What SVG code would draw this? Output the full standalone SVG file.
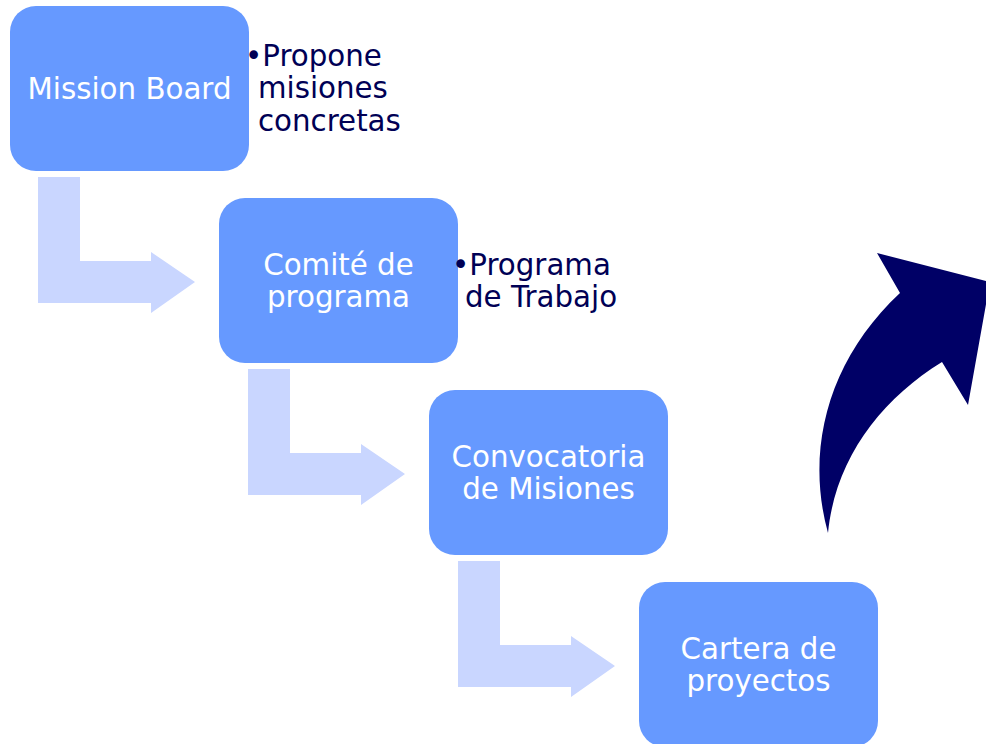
<svg xmlns="http://www.w3.org/2000/svg" width="986" height="744" viewBox="0 0 986 744">
<style>
.box{fill:#6699FF}
.bent{fill:#C9D6FF}
.lbl{font-family:"DejaVu Sans",Verdana,sans-serif;font-size:29.3px;fill:#FFFFFF;text-anchor:middle}
.note{font-family:"DejaVu Sans",Verdana,sans-serif;font-size:29.3px;fill:#000055}
</style>
<rect width="986" height="744" fill="#FFFFFF"/>
<g id="connectors">
<path class="bent" d="M38 177 H80 V261 H151 V252 L195 282 L151 313 V303 H38 Z"/>
<path class="bent" d="M248 369 H290 V453 H361 V444 L405 474 L361 505 V495 H248 Z"/>
<path class="bent" d="M458 561 H500 V645 H571 V636 L615 666 L571 697 V687 H458 Z"/>
<path id="curved-arrow" fill="#000066" d="M828 533 C805 450 828 360 900 293 L877 253 L990 282 L968 405 L942 362 C880 400 835 460 828 533 Z"/>
</g>
<g id="mission-board">
<rect class="box" x="10" y="6" width="239" height="165" rx="26"/>
<text class="lbl" x="129.5" y="99">Mission Board</text>
</g>
<g id="note-mission">
<text class="note" x="245" y="66">•Propone</text>
<text class="note" x="258" y="98">misiones</text>
<text class="note" x="258" y="131">concretas</text>
</g>
<g id="comite">
<rect class="box" x="219" y="198" width="239" height="165" rx="26"/>
<text class="lbl" x="338.5" y="275">Comité de</text>
<text class="lbl" x="338.5" y="307">programa</text>
</g>
<g id="note-comite">
<text class="note" x="452" y="275">•Programa</text>
<text class="note" x="465" y="307">de Trabajo</text>
</g>
<g id="convocatoria">
<rect class="box" x="429" y="390" width="239" height="165" rx="26"/>
<text class="lbl" x="548.5" y="467">Convocatoria</text>
<text class="lbl" x="548.5" y="499">de Misiones</text>
</g>
<g id="cartera">
<rect class="box" x="639" y="582" width="239" height="165" rx="26"/>
<text class="lbl" x="758.5" y="659">Cartera de</text>
<text class="lbl" x="758.5" y="691">proyectos</text>
</g>
</svg>
